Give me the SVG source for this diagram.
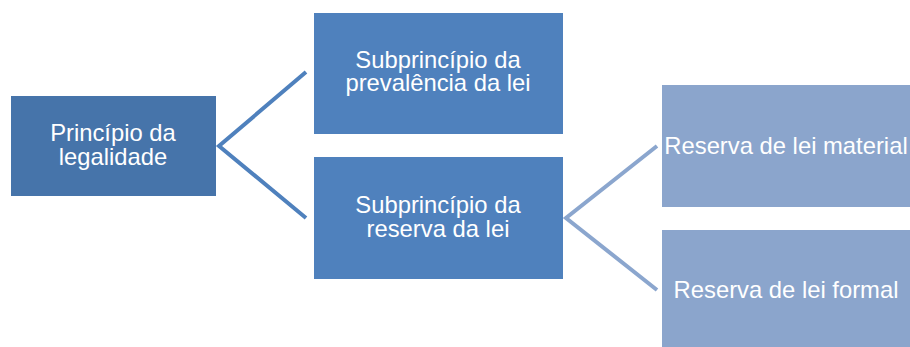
<svg xmlns="http://www.w3.org/2000/svg" width="910" height="347" viewBox="0 0 910 347">
<style>
.t{font-family:"Liberation Sans",Arial,sans-serif;font-size:23.8px;fill:#ffffff;text-anchor:middle}
.c1{fill:none;stroke:#4F81BD;stroke-width:4}
.c2{fill:none;stroke:#8BA6CE;stroke-width:4}
</style>
<rect width="910" height="347" fill="#ffffff"/>
<g id="connectors">
<polyline class="c1" points="306,72 219,146 306,218"/>
<polyline class="c2" points="657,146 566,218 657,290"/>
</g>
<g id="n1">
<rect x="11" y="96" width="205" height="100" fill="#4674AA"/>
<text class="t" x="113" y="141">Princípio da</text>
<text class="t" x="113" y="165">legalidade</text>
</g>
<g id="n2">
<rect x="314" y="13" width="249" height="121" fill="#4F81BD"/>
<text class="t" x="438" y="68">Subprincípio da</text>
<text class="t" x="438" y="91">prevalência da lei</text>
</g>
<g id="n3">
<rect x="314" y="157" width="249" height="122" fill="#4F81BD"/>
<text class="t" x="438" y="213">Subprincípio da</text>
<text class="t" x="438" y="237">reserva da lei</text>
</g>
<g id="n4">
<rect x="662" y="85" width="248" height="122" fill="#8BA5CC"/>
<text class="t" x="786" y="154">Reserva de lei material</text>
</g>
<g id="n5">
<rect x="662" y="230" width="248" height="122" fill="#8BA5CC"/>
<text class="t" x="786" y="298">Reserva de lei formal</text>
</g>
</svg>
